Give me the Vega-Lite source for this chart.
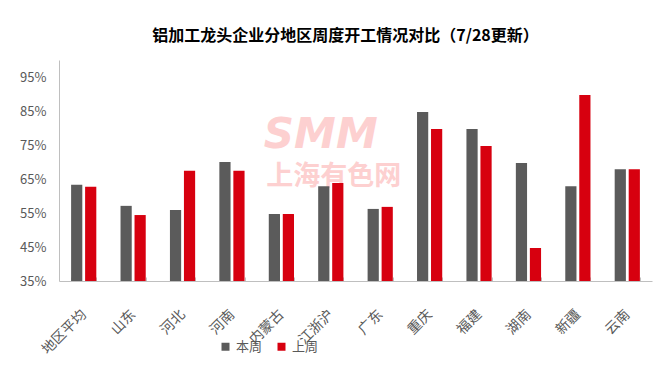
{
  "$schema": "https://vega.github.io/schema/vega-lite/v6.json",
  "width": 593,
  "height": 221,
  "autosize": {"type": "none"},
  "padding": {"left": 59, "top": 60, "right": 14, "bottom": 87},
  "background": "white",
  "config": {
    "view": {"stroke": null},
    "font": "Noto Sans CJK SC",
    "axis": {"labelOverlap": false}
  },
  "title": {
    "text": "铝加工龙头企业分地区周度开工情况对比（7/28更新）",
    "fontSize": 16,
    "fontWeight": "bold",
    "color": "#000000",
    "anchor": "middle",
    "offset": 16,
    "dx": -10,
    "font": "Noto Sans CJK SC"
  },
  "data": {
    "values": [
      {"region": "地区平均", "week": "本周", "value": 0.633},
      {"region": "地区平均", "week": "上周", "value": 0.627},
      {"region": "山东", "week": "本周", "value": 0.571},
      {"region": "山东", "week": "上周", "value": 0.544},
      {"region": "河北", "week": "本周", "value": 0.559},
      {"region": "河北", "week": "上周", "value": 0.674},
      {"region": "河南", "week": "本周", "value": 0.700},
      {"region": "河南", "week": "上周", "value": 0.674},
      {"region": "内蒙古", "week": "本周", "value": 0.547},
      {"region": "内蒙古", "week": "上周", "value": 0.547},
      {"region": "江浙沪", "week": "本周", "value": 0.629},
      {"region": "江浙沪", "week": "上周", "value": 0.638},
      {"region": "广东", "week": "本周", "value": 0.562},
      {"region": "广东", "week": "上周", "value": 0.568},
      {"region": "重庆", "week": "本周", "value": 0.847},
      {"region": "重庆", "week": "上周", "value": 0.797},
      {"region": "福建", "week": "本周", "value": 0.797},
      {"region": "福建", "week": "上周", "value": 0.747},
      {"region": "湖南", "week": "本周", "value": 0.697},
      {"region": "湖南", "week": "上周", "value": 0.447},
      {"region": "新疆", "week": "本周", "value": 0.629},
      {"region": "新疆", "week": "上周", "value": 0.897},
      {"region": "云南", "week": "本周", "value": 0.679},
      {"region": "云南", "week": "上周", "value": 0.679}
    ]
  },
  "layer": [
    {
      "data": {"values": [{"t": "SMM"}]},
      "mark": {"type": "text", "fontSize": 42, "fontWeight": "bold", "fontStyle": "italic", "font": "DejaVu Sans", "color": "#fdd0d0", "dx": -10, "baseline": "middle"},
      "encoding": {
        "text": {"field": "t"},
        "x": {"datum": "江浙沪", "type": "nominal"},
        "y": {"datum": 0.78, "type": "quantitative"}
      }
    },
    {
      "data": {"values": [{"t": "上海有色网"}]},
      "mark": {"type": "text", "fontSize": 27, "fontWeight": "bold", "font": "Noto Sans CJK SC", "color": "#fdd0d0", "dx": 3, "baseline": "middle"},
      "encoding": {
        "text": {"field": "t"},
        "x": {"datum": "江浙沪", "type": "nominal"},
        "y": {"datum": 0.655, "type": "quantitative"}
      }
    },
    {
      "mark": {"type": "bar"},
      "encoding": {
        "x": {
          "field": "region",
          "type": "nominal",
          "scale": {
            "domain": ["地区平均", "山东", "河北", "河南", "内蒙古", "江浙沪", "广东", "重庆", "福建", "湖南", "新疆", "云南"],
            "paddingInner": 0.49,
            "paddingOuter": 0.245
          },
          "axis": {
            "title": null,
            "labelAngle": -45,
            "labelAlign": "right",
            "labelBaseline": "middle",
            "labelFontSize": 14,
            "labelColor": "#595959",
            "domainColor": "#bfbfbf",
            "tickColor": "#bfbfbf",
            "tickSize": -4,
            "tickBand": "extent",
            "labelPadding": 35,
            "labelOverlap": false
          }
        },
        "xOffset": {
          "field": "week",
          "type": "nominal",
          "sort": ["本周", "上周"],
          "scale": {"paddingInner": 0.2, "paddingOuter": 0}
        },
        "y": {
          "field": "value",
          "type": "quantitative",
          "scale": {"domain": [0.35, 1.0], "zero": false, "nice": false},
          "axis": {
            "title": null,
            "format": ".0%",
            "values": [0.35, 0.45, 0.55, 0.65, 0.75, 0.85, 0.95],
            "tickCount": 10,
            "grid": false,
            "ticks": false,
            "domainColor": "#bfbfbf",
            "labelColor": "#595959",
            "labelFontSize": 13,
            "labelPadding": 13,
            "labelOverlap": false
          }
        },
        "y2": {"datum": 0.35},
        "color": {
          "field": "week",
          "type": "nominal",
          "scale": {"domain": ["本周", "上周"], "range": ["#5b5b5b", "#d7000f"]},
          "legend": {
            "title": null,
            "orient": "none",
            "legendX": 160,
            "legendY": 280,
            "direction": "horizontal",
            "symbolType": "square",
            "symbolSize": 64,
            "symbolStrokeWidth": 0,
            "labelFontSize": 13,
            "labelColor": "#595959",
            "columnPadding": 12,
            "labelOffset": 4
          }
        }
      }
    }
  ]
}
